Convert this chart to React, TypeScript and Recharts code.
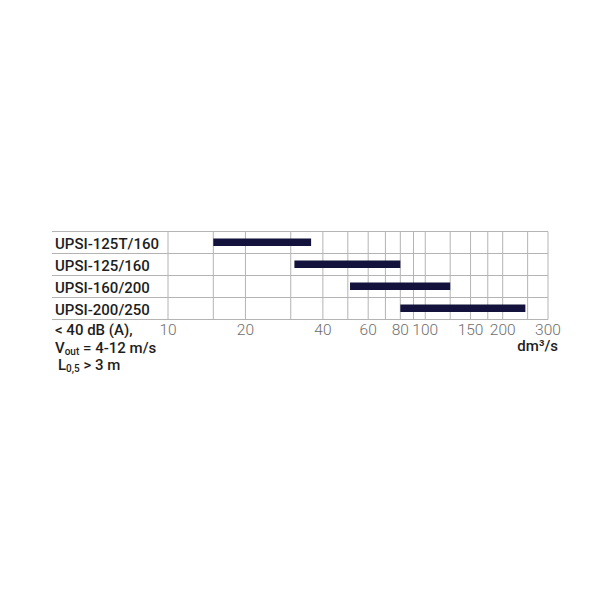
import React from 'react';
import { BarChart, Bar, XAxis, YAxis, CartesianGrid } from 'recharts';

const categories = ['UPSI-125T/160', 'UPSI-125/160', 'UPSI-160/200', 'UPSI-200/250'];
const rangeStart = [15, 31, 51, 80];
const rangeEnd = [36, 80, 125, 245];
const gridTicks = [10, 15, 20, 30, 40, 50, 60, 70, 80, 90, 100, 125, 150, 175, 200, 250, 300];
const labeledTicks = [10, 20, 40, 60, 80, 100, 150, 200, 300];

const data = categories.map((name, i) => ({ name, range: [rangeStart[i], rangeEnd[i]] }));

const W = 584;
const H = 400;
const M = { top: 223.5, right: 44, bottom: 58.5, left: 44 };
const Y_W = 116;
const X_H = 30;
const PLOT_H = H - M.top - M.bottom - X_H;
const ROW_H = PLOT_H / categories.length;
const PLOT_R = W - M.right;
const LABEL_X = 47;
const FONT = 'Roboto, "DejaVu Sans", sans-serif';
const GRID = '#b4b4b4';

const YTick = (props: any) => {
  const { y, payload, index } = props;
  return (
    <g>
      <line x1={LABEL_X - 3} x2={PLOT_R} y1={y - ROW_H / 2} y2={y - ROW_H / 2} stroke={GRID} strokeWidth={1} />
      {index === categories.length - 1 && (
        <line x1={LABEL_X - 3} x2={PLOT_R} y1={y + ROW_H / 2} y2={y + ROW_H / 2} stroke={GRID} strokeWidth={1} />
      )}
      <text x={LABEL_X} y={y + 1} dominantBaseline="central" textAnchor="start" fontFamily={FONT} fontWeight={500} fontSize={15} fill="#1e1e1e">
        {payload.value}
      </text>
    </g>
  );
};

const XTick = (props: any) => {
  const { x, y, payload } = props;
  if (!labeledTicks.includes(payload.value)) return null;
  return (
    <text x={x} y={y + 10.5} dominantBaseline="central" textAnchor="middle" fontFamily={FONT} fontWeight={300} fontSize={15.5} fill="#6e6e6e">
      {payload.value}
    </text>
  );
};

export default function App() {
  return (
    <div style={{ position: 'relative', width: W, height: H }}>
      <BarChart width={W} height={H} data={data} layout="vertical" margin={M}>
        <CartesianGrid horizontal={false} vertical={true} stroke={GRID} strokeDasharray="" />
        <XAxis
          type="number"
          dataKey="range"
          scale="log"
          domain={[10, 300]}
          ticks={gridTicks}
          interval={0}
          allowDataOverflow
          axisLine={false}
          tickLine={false}
          tickSize={0}
          tickMargin={0}
          height={X_H}
          tick={<XTick />}
        />
        <YAxis
          type="category"
          dataKey="name"
          width={Y_W}
          axisLine={false}
          tickLine={false}
          tick={<YTick />}
          interval={0}
        />
        <Bar dataKey="range" fill="#13123d" barSize={7.5} isAnimationActive={false} />
      </BarChart>
      <svg width={W} height={H} style={{ position: 'absolute', left: 0, top: 0, pointerEvents: 'none' }}>
        <text x={550} y={338} textAnchor="end" dominantBaseline="central" fontFamily={FONT} fontWeight={500} fontSize={15} fill="#1e1e1e">
          dm³/s
        </text>
        <text x={LABEL_X} y={322} dominantBaseline="central" fontFamily={FONT} fontWeight={500} fontSize={15} fill="#1e1e1e">
          &lt; 40 dB (A),
        </text>
        <text x={LABEL_X} y={340} dominantBaseline="central" fontFamily={FONT} fontWeight={500} fontSize={15} fill="#1e1e1e">
          V<tspan fontSize={10} dy={3}>out</tspan><tspan dy={-3}> = 4-12 m/s</tspan>
        </text>
        <text x={LABEL_X + 3} y={357} dominantBaseline="central" fontFamily={FONT} fontWeight={500} fontSize={15} fill="#1e1e1e">
          L<tspan fontSize={10} dy={3}>0,5</tspan><tspan dy={-3}> &gt; 3 m</tspan>
        </text>
      </svg>
    </div>
  );
}
